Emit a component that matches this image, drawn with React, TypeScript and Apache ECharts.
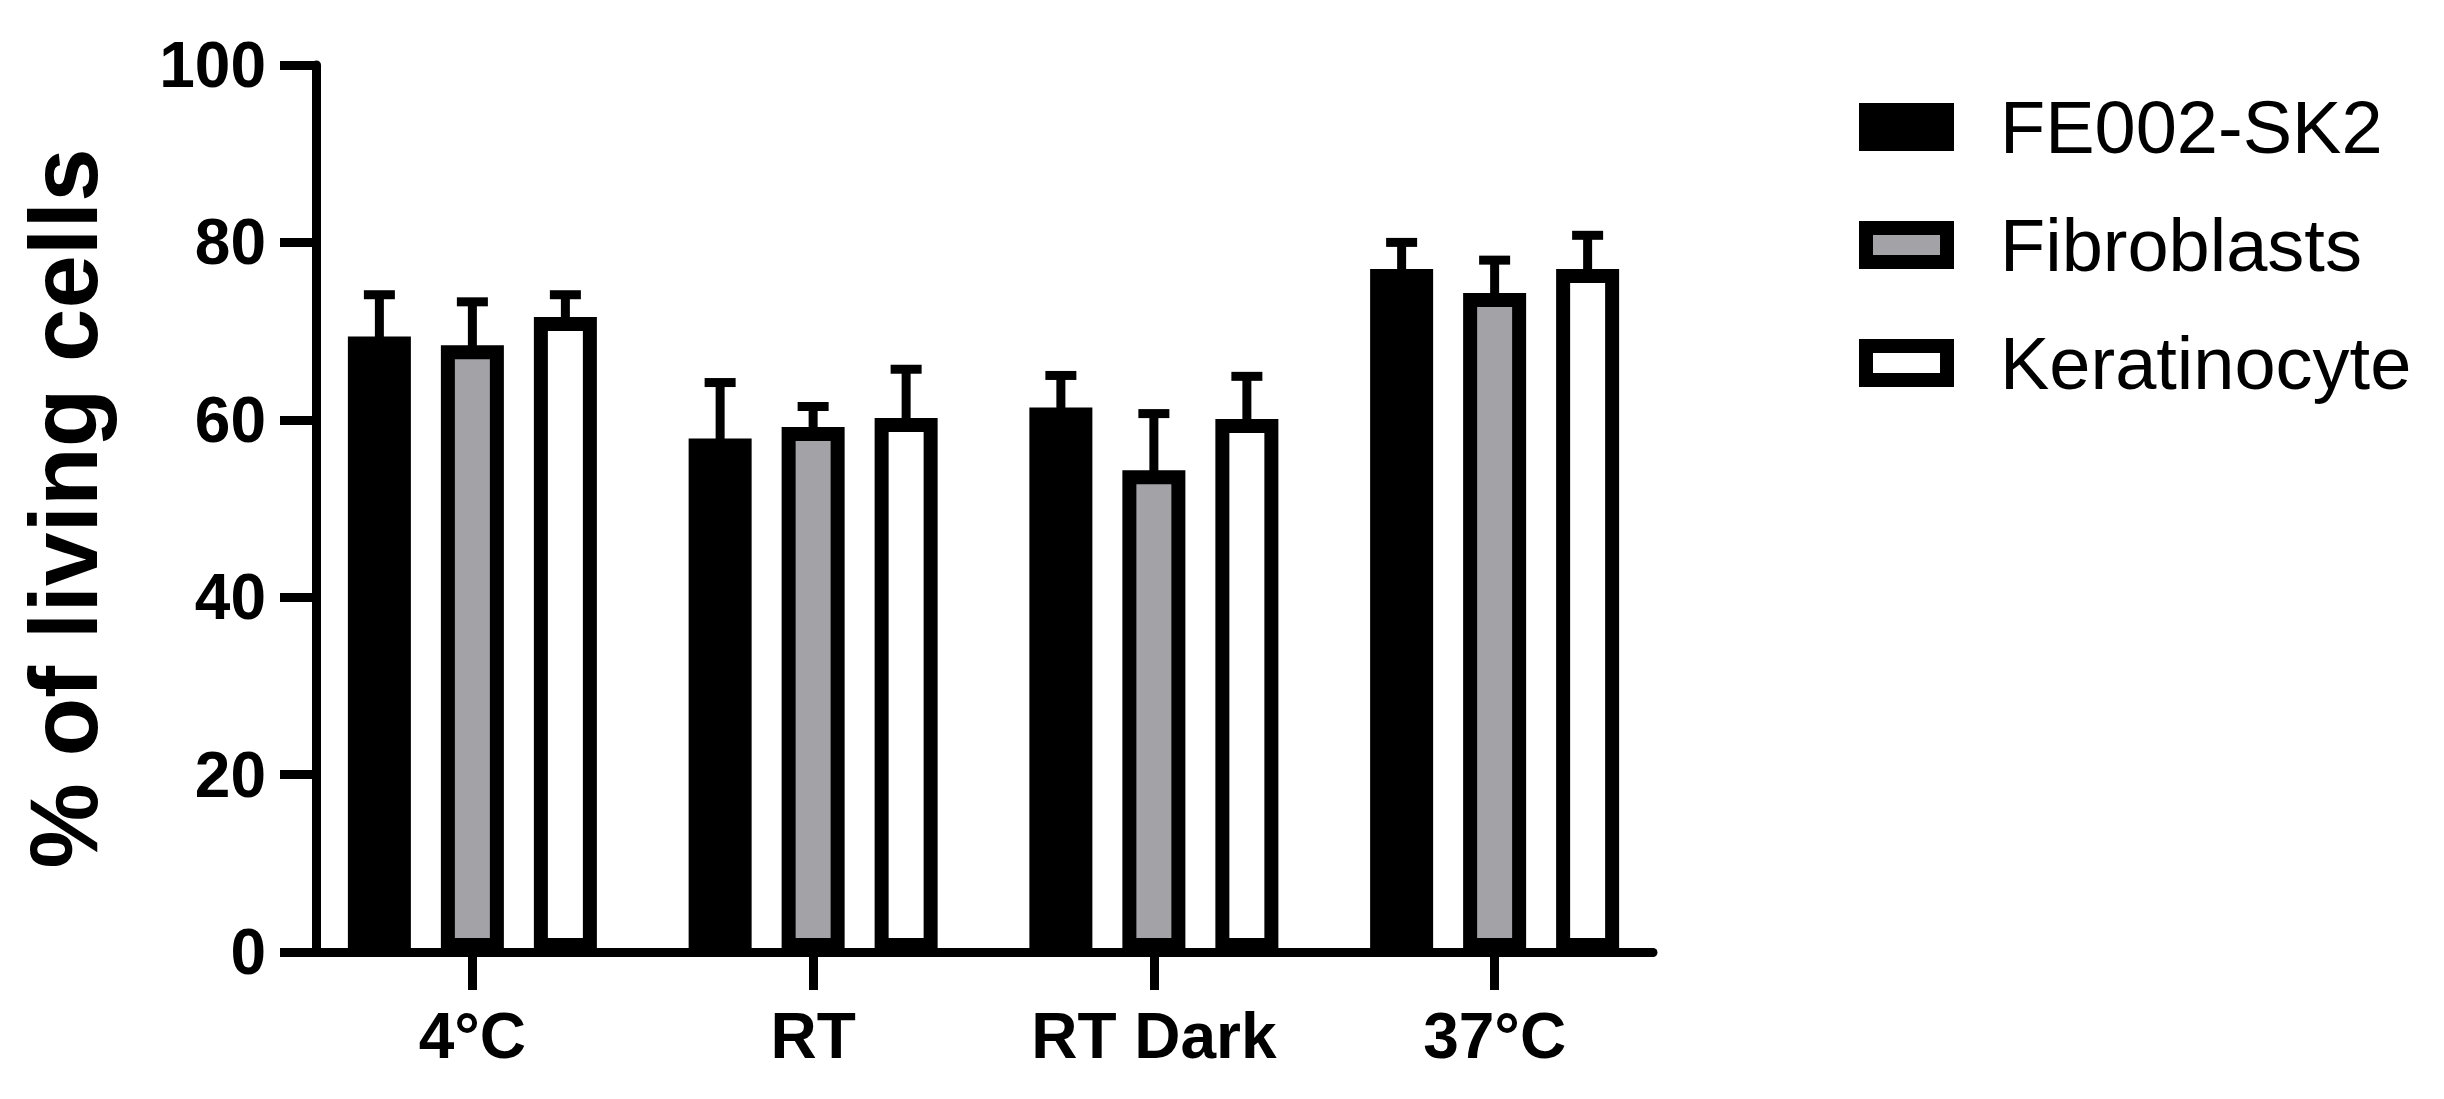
import React, { useEffect, useRef } from 'react';
import * as echarts from 'echarts';

// conditions on the x axis
const categories = ['4°C', 'RT', 'RT Dark', '37°C'];
const seriesNames = ['FE002-SK2', 'Fibroblasts', 'Keratinocyte'];

// mean % of living cells per condition
const fe002Mean = [69.4, 57.9, 61.4, 77.0];
const fibroMean = [68.4, 59.2, 54.3, 74.3];
const keratMean = [71.6, 60.2, 60.1, 77.0];

// upper error bar (SD)
const fe002Sd = [4.7, 6.3, 3.6, 3.0];
const fibroSd = [4.9, 2.3, 6.4, 3.7];
const keratSd = [2.5, 5.5, 4.8, 3.8];

const yTicks = [0, 20, 40, 60, 80, 100];

const FONT = 'Arial, "Liberation Sans", Helvetica, sans-serif';
const BAR_W = 63;
const BORDER = 14;
const PITCH = 93;

const App: React.FC = () => {
  const chartRef = useRef<HTMLDivElement>(null);

  useEffect(() => {
    document.body.style.margin = '0';
    if (!chartRef.current) return;
    const chart = echarts.init(chartRef.current, undefined, { renderer: 'svg' });

    const means = [fe002Mean, fibroMean, keratMean];
    const sds = [fe002Sd, fibroSd, keratSd];
    const fills = ['#000000', '#a3a2a7', '#ffffff'];

    const errorData: number[][] = [];
    means.forEach((m, s) => {
      m.forEach((v, i) => errorData.push([i, v, v + sds[s][i], s]));
    });

    const option = {
      animation: false,
      backgroundColor: '#ffffff',
      grid: [
        { left: 316, right: 2444 - 1653, top: 65, bottom: 1099 - 952 },
        { left: 302, width: 1363, top: 65, bottom: 1099 - 952 }
      ],
      legend: {
        orient: 'vertical',
        left: 1859,
        top: 90,
        padding: 0,
        icon: 'rect',
        itemWidth: 81,
        itemHeight: 34,
        itemGap: 44,
        data: seriesNames,
        itemStyle: { borderColor: '#000', borderWidth: BORDER },
        textStyle: {
          fontFamily: FONT,
          fontSize: 74,
          color: '#000',
          padding: [0, 0, 0, 48]
        }
      },
      xAxis: [
        {
          type: 'value',
          gridIndex: 0,
          min: 0,
          max: 1,
          axisLine: { show: true, lineStyle: { color: '#000', width: 9 } },
          axisTick: { show: false },
          axisLabel: { show: false },
          splitLine: { show: false }
        },
        {
          type: 'category',
          gridIndex: 1,
          data: categories,
          axisLine: { show: false },
          axisTick: {
            show: true,
            alignWithLabel: true,
            length: 38,
            lineStyle: { color: '#000', width: 9 }
          },
          axisLabel: {
            fontFamily: FONT,
            fontWeight: 'bold',
            fontSize: 64,
            color: '#000',
            margin: 52
          }
        }
      ],
      yAxis: [
        {
          type: 'value',
          gridIndex: 0,
          min: 0,
          max: 100,
          interval: 20,
          name: '% of living cells',
          nameLocation: 'middle',
          nameGap: 205,
          nameTextStyle: {
            fontFamily: FONT,
            fontWeight: 'bold',
            fontSize: 96,
            color: '#000'
          },
          axisLine: { show: true, lineStyle: { color: '#000', width: 9 } },
          axisTick: { show: true, length: 36, lineStyle: { color: '#000', width: 9 } },
          axisLabel: {
            fontFamily: FONT,
            fontWeight: 'bold',
            fontSize: 64,
            color: '#000',
            margin: 50,
            formatter: (v: number) => (yTicks.includes(v) ? String(v) : '')
          },
          splitLine: { show: false }
        },
        {
          type: 'value',
          gridIndex: 1,
          min: 0,
          max: 100,
          show: false
        }
      ],
      series: [
        ...seriesNames.map((name, s) => ({
          name,
          type: 'bar',
          xAxisIndex: 1,
          yAxisIndex: 1,
          data: means[s],
          barWidth: BAR_W,
          barGap: ((PITCH - BAR_W) / BAR_W) * 100 + '%',
          itemStyle: { color: fills[s], borderColor: '#000', borderWidth: BORDER },
          z: 2
        })),
        {
          name: 'error',
          type: 'custom',
          xAxisIndex: 1,
          yAxisIndex: 1,
          data: errorData,
          z: 5,
          renderItem: (params: any, api: any) => {
            const idx = api.value(0);
            const s = api.value(3);
            const base = api.coord([idx, api.value(1)]);
            const top = api.coord([idx, api.value(2)]);
            const x = base[0] + (s - 1) * PITCH;
            const style = { stroke: '#000', lineWidth: 9, fill: null };
            return {
              type: 'group',
              children: [
                { type: 'line', shape: { x1: x, y1: base[1] + 2, x2: x, y2: top[1] }, style },
                { type: 'line', shape: { x1: x - 15.5, y1: top[1], x2: x + 15.5, y2: top[1] }, style }
              ]
            };
          }
        }
      ]
    } as any;

    chart.setOption(option);
    return () => chart.dispose();
  }, []);

  return <div ref={chartRef} style={{ width: 2444, height: 1099 }} />;
};

export default App;
